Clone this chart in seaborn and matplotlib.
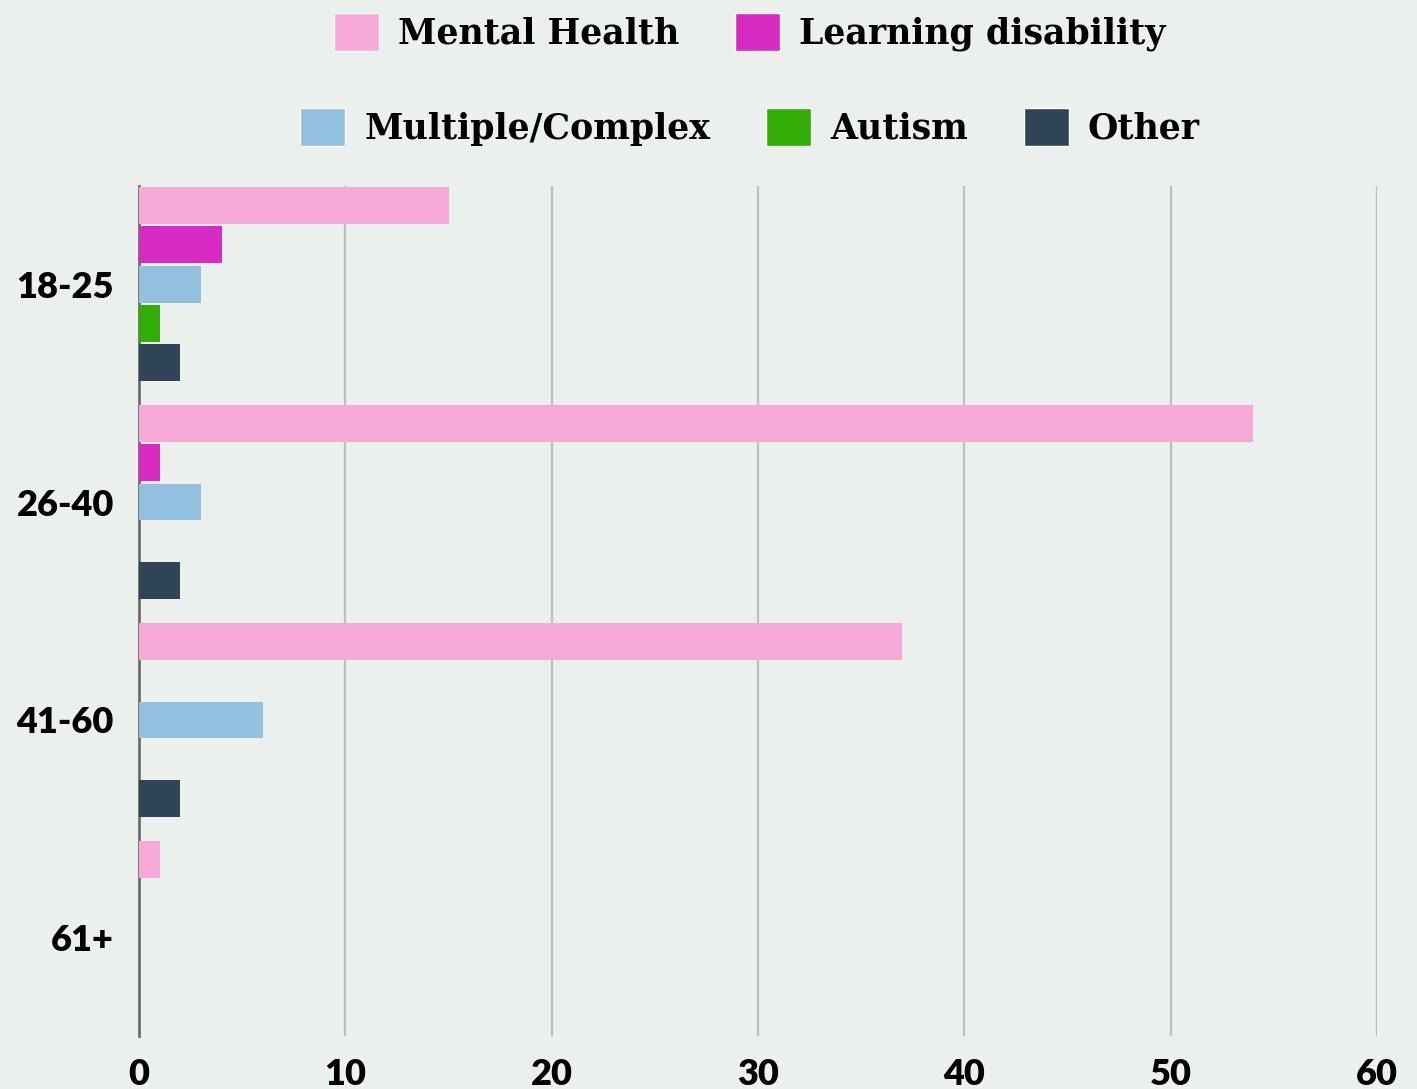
import numpy as np
import pandas as pd
import matplotlib
matplotlib.use("Agg")
import matplotlib.pyplot as plt
import seaborn as sns
from matplotlib.patches import Patch

# data
ages = ["18-25", "26-40", "41-60", "61+"]
mental_health = [15, 54, 37, 1]
learning_disability = [4, 1, 0, 0]
multiple_complex = [3, 3, 6, 0]
autism = [1, 0, 0, 0]
other = [2, 2, 2, 0]

series = ["Mental Health", "Learning disability", "Multiple/Complex", "Autism", "Other"]
colors = ["#F7A9D9", "#D62AC3", "#93C0DE", "#31AD05", "#304457"]

vals = [mental_health, learning_disability, multiple_complex, autism, other]
rows = []
for name, v in zip(series, vals):
    for a, n in zip(ages, v):
        rows.append({"age": a, "type": name, "count": n})
df = pd.DataFrame(rows)

bg = "#EBF0EC"
sns.set_style("white", rc={"axes.facecolor": bg, "figure.facecolor": bg})

fig = plt.figure(figsize=(14.17, 10.89), dpi=100)
ax = fig.add_axes([0.0981, 0.0487, 0.9718 - 0.0981, 0.8292 - 0.0487])

sns.barplot(data=df, x="count", y="age", hue="type", orient="h",
            hue_order=series, order=ages, palette=colors,
            width=0.9, gap=0.06, legend=False, ax=ax, errorbar=None,
            saturation=1, linewidth=0, zorder=3)

ax.set_xlim(0, 60)
ax.set_ylim(3.45, -0.45)
ax.set_xticks(range(0, 61, 10))
for x in range(10, 61, 10):
    ax.axvline(x, color="#BDC0BD", lw=1.6, zorder=0)

for s in ["top", "right", "bottom"]:
    ax.spines[s].set_visible(False)
ax.spines["left"].set_color("#6B6E6B")
ax.spines["left"].set_linewidth(2)
ax.spines["left"].set_zorder(2)

ax.set_xlabel("")
ax.set_ylabel("")
ax.tick_params(axis="both", length=0)
ax.tick_params(axis="x", pad=16)
ax.tick_params(axis="y", pad=18)
for lab in ax.get_xticklabels() + ax.get_yticklabels():
    lab.set_fontfamily("Lato")
    lab.set_fontweight("heavy")
    lab.set_fontsize(26)
    lab.set_color("black")

leg_font = {"family": "DejaVu Serif", "weight": "bold", "size": 25}
kw = dict(frameon=False, prop=leg_font, handlelength=1.3, handleheight=1.3,
          handletextpad=0.55, columnspacing=1.6, borderaxespad=0, loc="center",
          labelcolor="black")
h1 = [Patch(facecolor=c, label=s) for s, c in zip(series[:2], colors[:2])]
h2 = [Patch(facecolor=c, label=s) for s, c in zip(series[2:], colors[2:])]
fig.legend(handles=h1, ncol=2, bbox_to_anchor=(750 / 1417, 1 - 32 / 1089), **kw)
fig.legend(handles=h2, ncol=3, bbox_to_anchor=(750 / 1417, 1 - 127 / 1089), **kw)

plt.savefig("out.png", dpi=100, facecolor=bg)
